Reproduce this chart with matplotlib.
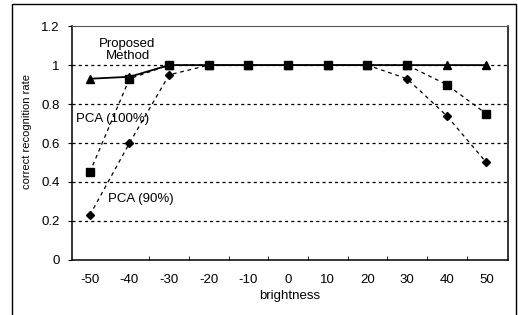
import matplotlib
matplotlib.use("Agg")
import matplotlib.pyplot as plt
from matplotlib.patches import Rectangle

plt.rcParams['font.family'] = ['Liberation Sans', 'DejaVu Sans']

brightness = [-50, -40, -30, -20, -10, 0, 10, 20, 30, 40, 50]
tick_labels = ["-50", "-40", "-30", "-20", "-10", "0", "10", "20", "30", "40", "50"]
proposed = [0.93, 0.94, 1, 1, 1, 1, 1, 1, 1, 1, 1]
pca100 = [0.45, 0.93, 1, 1, 1, 1, 1, 1, 1, 0.90, 0.75]
pca90 = [0.23, 0.60, 0.95, 1, 1, 1, 1, 1, 0.93, 0.74, 0.50]

fig = plt.figure(figsize=[5.18, 3.15], dpi=100)
ax = fig.add_axes([0.139, 0.175, 0.842, 0.742])

for yv in [0.2, 0.4, 0.6, 0.8, 1.0]:
    ax.axhline(yv, color='black', linestyle=(0, (2.5, 2.5)), linewidth=0.9, zorder=1)

ax.plot(brightness, proposed, '-', color='black', linewidth=1.3, marker='^', markersize=6, zorder=3)
ax.plot(brightness, pca90, '--', color='black', linewidth=0.9, dashes=(3, 3), marker='D', markersize=4, zorder=4)
ax.plot(brightness, pca100, '--', color='black', linewidth=0.9, dashes=(3, 3), marker='s', markersize=6, zorder=5)

fs = 9.5
ax.text(-40.5, 1.08, "Proposed\nMethod", ha='center', va='center', fontsize=fs, linespacing=1.0)
ax.text(-53.5, 0.725, "PCA (100%)", ha='left', va='center', fontsize=fs)
ax.text(-45.5, 0.315, "PCA (90%)", ha='left', va='center', fontsize=fs)

ax.set_xlim(-54.5, 55.5)
ax.set_ylim(0, 1.2)
ax.set_xticks(brightness)
ax.set_xticklabels(tick_labels)
ax.set_xticks([-35, -25, -15, -5, 5, 15, 25, 35, 45], minor=True)
ax.set_yticks([0, 0.2, 0.4, 0.6, 0.8, 1.0, 1.2])
ax.set_yticklabels(["0", "0.2", "0.4", "0.6", "0.8", "1", "1.2"])
ax.tick_params(axis='y', labelsize=fs, length=3, direction='out', pad=6)
ax.tick_params(axis='x', which='major', labelsize=fs, length=0, pad=10)
ax.tick_params(axis='x', which='minor', length=3, direction='in')
ax.set_xlabel("brightness", fontsize=fs, labelpad=3)
ax.set_ylabel("correct recognition rate", fontsize=8)
ax.yaxis.set_label_coords(-0.092, 0.55)

for s in ['left', 'bottom', 'right']:
    ax.spines[s].set_color('black')
    ax.spines[s].set_linewidth(1.1)
ax.spines['top'].set_color('#555555')
ax.spines['top'].set_linewidth(0.8)

fig.patches.append(Rectangle((12 / 518, -0.05), 504 / 518, 1.05 - 4 / 315, transform=fig.transFigure,
                             fill=False, edgecolor='black', linewidth=1.0))

plt.savefig("out.png", dpi=100)
plt.close()
